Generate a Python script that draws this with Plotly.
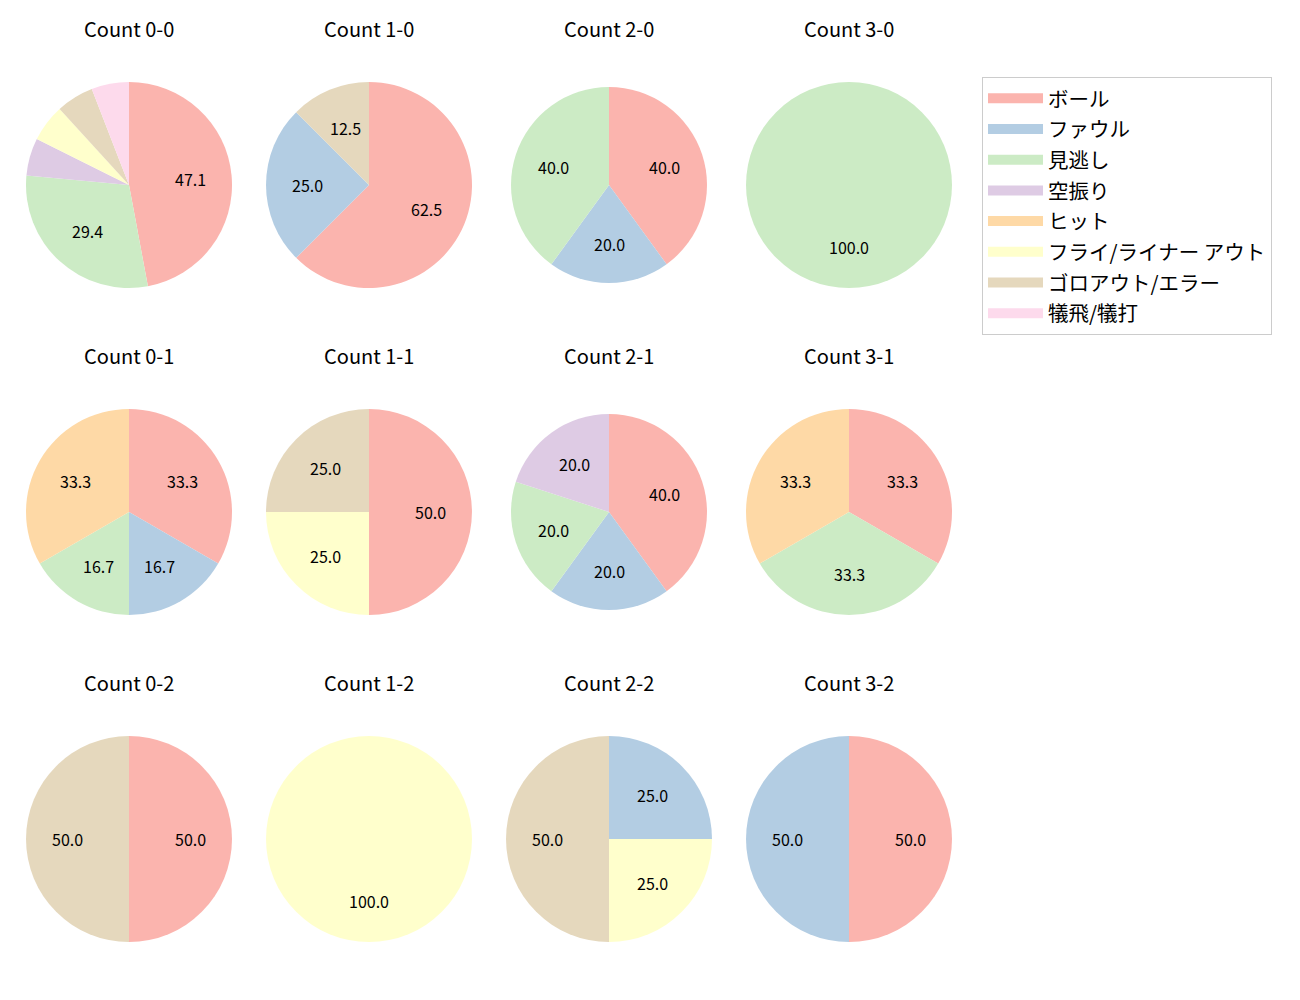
import math
import plotly.graph_objects as go

# outcome categories (legend order) and Pastel1 colours
labels = ["ボール", "ファウル", "見逃し", "空振り", "ヒット",
          "フライ/ライナー アウト", "ゴロアウト/エラー", "犠飛/犠打"]
colors = ["#fbb4ae", "#b3cde3", "#ccebc5", "#decbe4",
          "#fed9a6", "#ffffcc", "#e5d8bd", "#fddaec"]

# pitch counts per ball-strike count, in the same order as labels
count_0_0 = [8, 0, 5, 1, 0, 1, 1, 1]
count_1_0 = [5, 2, 0, 0, 0, 0, 1, 0]
count_2_0 = [2, 1, 2, 0, 0, 0, 0, 0]
count_3_0 = [0, 0, 1, 0, 0, 0, 0, 0]
count_0_1 = [2, 1, 1, 0, 2, 0, 0, 0]
count_1_1 = [2, 0, 0, 0, 0, 1, 1, 0]
count_2_1 = [2, 1, 1, 1, 0, 0, 0, 0]
count_3_1 = [1, 0, 1, 0, 1, 0, 0, 0]
count_0_2 = [1, 0, 0, 0, 0, 0, 1, 0]
count_1_2 = [0, 0, 0, 0, 0, 1, 0, 0]
count_2_2 = [0, 1, 0, 0, 0, 1, 2, 0]
count_3_2 = [1, 1, 0, 0, 0, 0, 0, 0]

grid = [
    [("Count 0-0", count_0_0), ("Count 1-0", count_1_0), ("Count 2-0", count_2_0), ("Count 3-0", count_3_0)],
    [("Count 0-1", count_0_1), ("Count 1-1", count_1_1), ("Count 2-1", count_2_1), ("Count 3-1", count_3_1)],
    [("Count 0-2", count_0_2), ("Count 1-2", count_1_2), ("Count 2-2", count_2_2), ("Count 3-2", count_3_2)],
]

W, H = 1300, 1000
OFF = 8   # page body margin
# pie radius in px (two panels came out slightly smaller in the original)
radii = [[103, 103, 98, 103],
         [103, 103, 98, 103],
         [103, 103, 103, 103]]
font = "Noto Sans CJK JP"

fig = go.Figure()
annotations = []

for i, row in enumerate(grid):
    for j, (title, vals) in enumerate(row):
        cx = 129 + 240 * j - OFF
        cy = 185 + 327 * i - OFF
        R = radii[i][j]
        fig.add_trace(go.Pie(
            labels=labels,
            values=vals,
            marker=dict(colors=colors, line=dict(width=0)),
            sort=False,
            direction="clockwise",
            rotation=0,
            textinfo="none",
            hoverinfo="label+percent",
            showlegend=False,
            domain=dict(x=[(cx - R) / W, (cx + R) / W],
                        y=[1 - (cy + R) / H, 1 - (cy - R) / H]),
        ))
        annotations.append(dict(
            x=cx / W, y=1 - (cy - 157) / H, xref="paper", yref="paper",
            xanchor="center", yanchor="middle",
            text=title, showarrow=False, font=dict(size=20, color="#000"),
        ))
        # percentage labels at 0.6 radius, like matplotlib autopct
        total = sum(vals)
        start = 90.0
        for v in vals:
            if v == 0:
                continue
            sweep = 360.0 * v / total
            mid = math.radians(start - sweep / 2)
            pct = 100.0 * v / total
            if pct >= 10:
                annotations.append(dict(
                    x=(cx + 0.6 * R * math.cos(mid)) / W,
                    y=1 - (cy - 0.6 * R * math.sin(mid)) / H,
                    xref="paper", yref="paper",
                    xanchor="center", yanchor="middle",
                    text=f"{pct:.1f}", showarrow=False,
                    font=dict(size=16, color="#000"),
                ))
            start -= sweep

# legend entries drawn as thick line swatches
for lab, col in zip(labels, colors):
    fig.add_trace(go.Scatter(
        x=[None], y=[None], mode="lines", name=f'<span style="font-size:20.5px">{lab}</span>',
        line=dict(color=col, width=14), hoverinfo="skip",
    ))

fig.update_layout(
    width=W, height=H,
    margin=dict(l=0, r=0, t=0, b=0),
    paper_bgcolor="white",
    plot_bgcolor="white",
    font=dict(family=font, color="#000"),
    annotations=annotations,
    xaxis=dict(visible=False),
    yaxis=dict(visible=False),
    legend=dict(
        x=(982 - OFF) / W, y=1 - (77 - OFF) / H, xanchor="left", yanchor="top",
        bordercolor="#cccccc", borderwidth=1, bgcolor="white",
        font=dict(size=21.3), traceorder="normal", itemwidth=55,
    ),
)

fig.write_html("out.html")
